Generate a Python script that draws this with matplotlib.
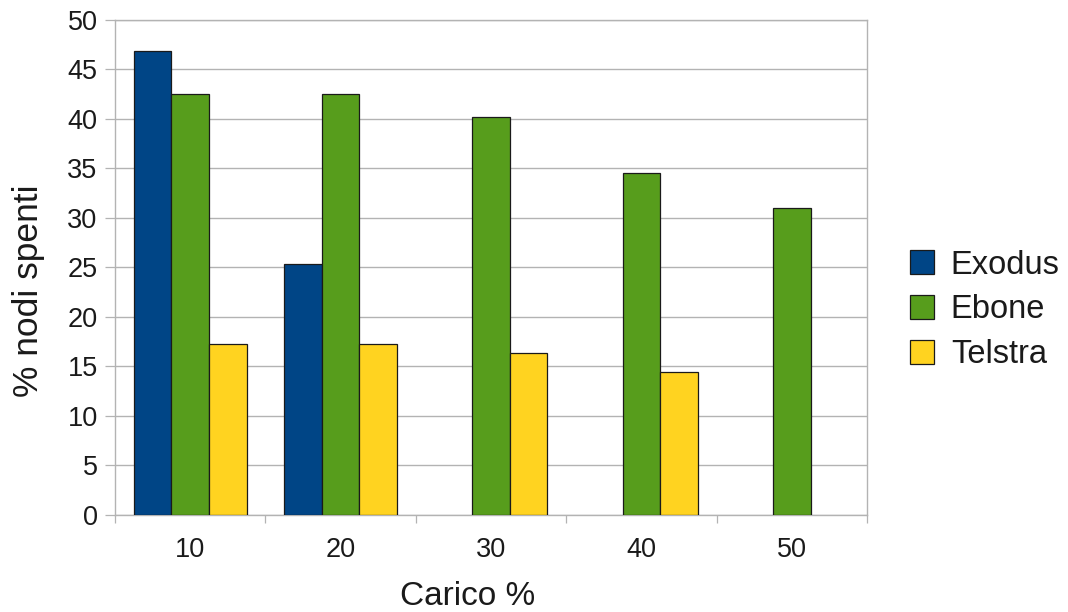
import matplotlib.pyplot as plt
from matplotlib.patches import Patch

# carico (%) e percentuale di nodi spenti per topologia
carico = ['10', '20', '30', '40', '50']
exodus = [46.8, 25.3, None, None, None]
ebone = [42.5, 42.5, 40.2, 34.5, 31.0]
telstra = [17.3, 17.3, 16.3, 14.4, None]

series = [('Exodus', exodus, '#004586'),
          ('Ebone', ebone, '#579d1c'),
          ('Telstra', telstra, '#ffd320')]

plt.rcParams['font.family'] = ['Liberation Sans', 'DejaVu Sans']
grey = '#b3b3b3'
ink = '#1a1a1a'
W, H = 1068, 612

fig = plt.figure(figsize=(W / 100, H / 100), dpi=100)
ax = fig.add_axes([115 / W, 1 - 515 / H, 752 / W, 495.5 / H])

width = 0.25
for k, (name, vals, col) in enumerate(series):
    xs = [i + (k - 1) * width for i, v in enumerate(vals) if v is not None]
    hs = [v for v in vals if v is not None]
    ax.bar(xs, hs, width=width, color=col, edgecolor=ink,
           linewidth=0.9, zorder=3)

ax.set_xlim(-0.5, len(carico) - 0.5)
ax.set_ylim(0, 50)
ax.set_yticks(range(0, 51, 5))
ax.yaxis.grid(True, color=grey, linewidth=1.0, zorder=0)

ax.set_xticks(range(len(carico)), carico)
ax.set_xticks([i - 0.5 for i in range(len(carico) + 1)], minor=True)
ax.tick_params(axis='x', which='major', length=0, pad=16, labelsize=19.5,
               labelcolor=ink)
ax.tick_params(axis='x', which='minor', length=6, width=0.9, color=grey)
ax.tick_params(axis='y', length=7.5, width=0.9, color=grey, pad=5,
               labelsize=19.5, labelcolor=ink)

for s in ax.spines.values():
    s.set_color(grey)
    s.set_linewidth(1.0)

# titoli degli assi
fig.text(467.5 / W, 1 - 605 / H, 'Carico %', fontsize=24, color=ink,
         ha='center', va='baseline')
fig.text(29 / W, 1 - 291 / H, '% nodi spenti', fontsize=25.5, color=ink,
         ha='center', va='center', rotation=90)

handles = [Patch(facecolor=c, edgecolor=ink, linewidth=0.9)
           for _, _, c in series]
fig.legend(handles, [n for n, _, _ in series], loc='center left',
           bbox_to_anchor=(910 / W, 1 - 310 / H), frameon=False,
           fontsize=23.5, handlelength=0.75, handleheight=0.75,
           handletextpad=0.5, labelspacing=0.42, borderpad=0,
           borderaxespad=0, labelcolor=ink)

fig.savefig('out.png', dpi=100)
